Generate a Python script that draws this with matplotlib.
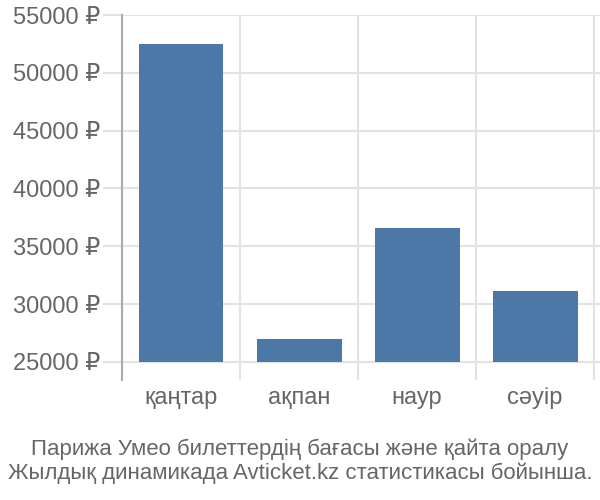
import numpy as np
import matplotlib
matplotlib.use("Agg")
import matplotlib.pyplot as plt

plt.rcParams['font.family'] = ['Liberation Sans', 'DejaVu Sans']

# data
months = ['қаңтар', 'ақпан', 'наур', 'сәуір']
prices = [52500, 26950, 36600, 31100]
y_ticks = [25000, 30000, 35000, 40000, 45000, 50000, 55000]
base = 25000

title = ('Парижа Умео билеттердің бағасы және қайта оралу\n'
         'Жылдық динамикада Avticket.kz статистикасы бойынша.')

text_col = '#666666'
grid_col = '#e2e2e2'
bar_col = '#4c78a8'

fig = plt.figure(figsize=(6, 5), dpi=100)
ax = fig.add_axes([0.2033, 0.24, 0.7967, 0.73])

x = np.arange(len(months))
heights = [p - base for p in prices]
ax.bar(x, heights, bottom=base, width=0.72, color=bar_col, zorder=3)

ax.set_ylim(23440, 55000)
ax.set_xlim(-0.5, 3.55)

ax.set_yticks(y_ticks)
ax.set_yticklabels([f'{t} ₽' for t in y_ticks])
ax.set_xticks(x)
ax.set_xticklabels(months)
ax.set_xticks(np.arange(-0.5, len(months), 1.0), minor=True)

ax.grid(axis='y', which='major', color=grid_col, linewidth=1.5, zorder=0)
ax.grid(axis='x', which='minor', color=grid_col, linewidth=1.5, zorder=0)

ax.tick_params(axis='y', which='major', length=14, width=1.5, color=grid_col,
               labelsize=17, labelcolor=text_col, pad=1.5)
ax.tick_params(axis='x', which='major', length=0, labelsize=17,
               labelcolor=text_col, pad=5)
ax.tick_params(axis='x', which='minor', length=0)

for s in ['top', 'right', 'bottom']:
    ax.spines[s].set_visible(False)
ax.spines['left'].set_color('#aaaaaa')
ax.spines['left'].set_linewidth(1.5)

fig.text(0.5, 0.032, title, ha='center', va='bottom', fontsize=16,
         color=text_col, linespacing=1.15)

fig.savefig('out.png', dpi=100)
